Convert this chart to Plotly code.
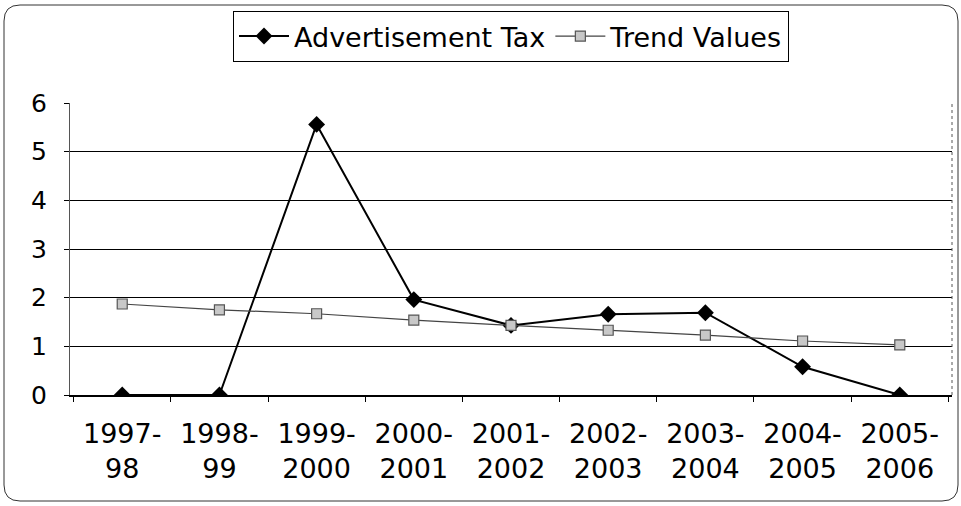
import plotly.graph_objects as go

categories = ["1997-<br>98", "1998-<br>99", "1999-<br>2000", "2000-<br>2001", "2001-<br>2002",
              "2002-<br>2003", "2003-<br>2004", "2004-<br>2005", "2005-<br>2006"]
advertisement_tax = [0, 0, 5.56, 1.96, 1.43, 1.66, 1.69, 0.58, 0]
trend_values = [1.87, 1.75, 1.67, 1.54, 1.43, 1.33, 1.23, 1.11, 1.03]
y_ticks = [0, 1, 2, 3, 4, 5, 6]

W, H = 961, 506
ML, MR, MT, MB = 70, 9, 103, 111
PW, PH = W - ML - MR, H - MT - MB

def px(x):
    return (x - ML) / PW

def py(y):
    return (H - MB - y) / PH

FONT = "DejaVu Sans, Verdana, sans-serif"

fig = go.Figure()
fig.add_trace(go.Scatter(
    x=categories, y=advertisement_tax, name="Advertisement Tax", mode="lines+markers",
    line=dict(color="black", width=2),
    marker=dict(symbol="diamond", size=13, color="black"),
))
fig.add_trace(go.Scatter(
    x=categories, y=trend_values, name="Trend Values", mode="lines+markers",
    line=dict(color="#444444", width=1.2),
    marker=dict(symbol="square", size=10, color="#c8c8c8", line=dict(color="#555555", width=1.2)),
))

# rounded outer border
L, R, T, B, r = 4, 958, 5, 501, 16
xl, xr, yt, yb = px(L), px(R), py(T), py(B)
rx, ry = r / PW, r / PH
path = (f"M {xl+rx},{yt} L {xr-rx},{yt} Q {xr},{yt} {xr},{yt-ry} "
        f"L {xr},{yb+ry} Q {xr},{yb} {xr-rx},{yb} L {xl+rx},{yb} "
        f"Q {xl},{yb} {xl},{yb+ry} L {xl},{yt-ry} Q {xl},{yt} {xl+rx},{yt} Z")
fig.add_shape(type="path", path=path, xref="paper", yref="paper",
              line=dict(color="#333333", width=1), layer="below")
# plot area right border
fig.add_shape(type="line", xref="paper", yref="paper", x0=1, x1=1, y0=0, y1=1,
              line=dict(color="#555555", width=1, dash="dot"))

fig.update_layout(
    width=W, height=H,
    margin=dict(l=ML, r=MR, t=MT, b=MB),
    paper_bgcolor="white", plot_bgcolor="white",
    font=dict(family=FONT, color="black", size=27),
    showlegend=True,
    legend=dict(orientation="h", x=px(511), xanchor="center", y=py(11), yanchor="top",
                bordercolor="black", borderwidth=1, bgcolor="white",
                font=dict(family=FONT, size=27), itemwidth=50, tracegroupgap=0),
    xaxis=dict(
        showline=True, linecolor="black", linewidth=1.5,
        ticks="outside", ticklen=5, tickcolor="black", tickson="boundaries",
        showgrid=False, ticklabelstandoff=14,
        tickfont=dict(family=FONT, size=27),
    ),
    yaxis=dict(
        range=[0, 6], tickvals=y_ticks, showgrid=True, gridcolor="black", gridwidth=1,
        showline=True, linecolor="#555555", linewidth=1,
        ticks="outside", ticklen=5, tickcolor="black", ticklabelstandoff=12,
        zeroline=False, tickfont=dict(family=FONT, size=25),
    ),
)

fig.write_html("out.html")
